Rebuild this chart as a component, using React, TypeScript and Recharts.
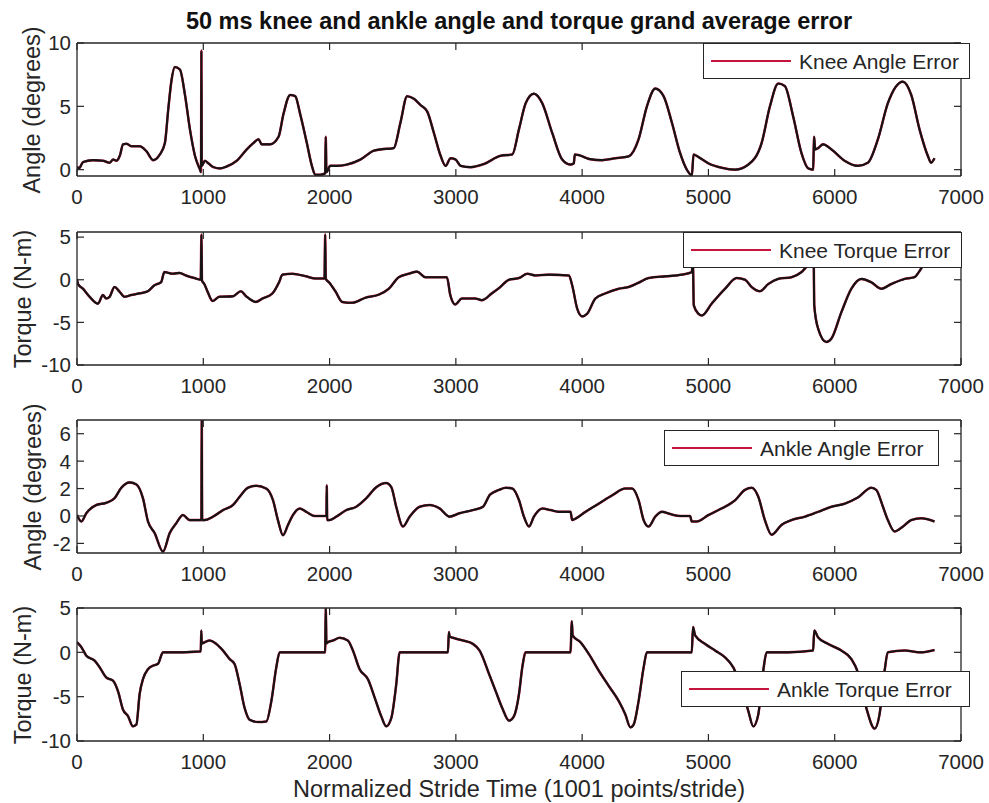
import { LineChart, Line, XAxis, YAxis } from "recharts";

// stride time axis (normalized, 1001 points per stride)
const STRIDE_TICKS = [0, 1000, 2000, 3000, 4000, 5000, 6000, 7000];

// [stride time, error]
const KNEE_ANGLE: [number, number][] = [
  [0, 0.25], [15, 0.1], [48, 0.6], [127, 0.75], [206, 0.7], [259, 0.55], [286, 0.8], [312, 0.7],
  [339, 1.1], [365, 2.0], [392, 2.05], [431, 1.85], [497, 1.85], [550, 1.45], [603, 0.75], [656, 1.2],
  [696, 2.1], [722, 4.7], [749, 7.1], [775, 8.1], [815, 7.9], [855, 5.9], [894, 3.2], [934, 1.1],
  [974, 0.0], [982, -0.2], [985, 9.4], [988, 0.3], [1013, 0.7], [1040, 0.5], [1080, 0.2], [1132, 0.1],
  [1185, 0.25], [1265, 0.7], [1344, 1.6], [1397, 2.1], [1437, 2.4], [1463, 2.0], [1529, 2.0], [1596, 2.6],
  [1635, 4.4], [1688, 5.9], [1728, 5.8], [1767, 4.4], [1820, 2.1], [1860, 0.3], [1887, -0.4], [1926, -0.4],
  [1965, -0.3], [1970, 2.6], [1975, -0.2], [2005, 0.3], [2058, 0.3], [2138, 0.4], [2244, 0.8], [2350, 1.5],
  [2403, 1.6], [2508, 1.7], [2561, 3.7], [2614, 5.8], [2667, 5.6], [2720, 5.1], [2773, 4.6], [2826, 2.9],
  [2879, 1.1], [2919, 0.3], [2958, 0.9], [2998, 0.8], [3038, 0.3], [3117, 0.2], [3223, 0.45], [3355, 1.1],
  [3447, 1.2], [3500, 3.2], [3553, 5.25], [3618, 6.0], [3684, 5.25], [3763, 2.9], [3842, 0.8], [3908, 0.4],
  [3934, 0.5], [3942, 1.2], [3974, 1.15], [4053, 0.85], [4158, 0.75], [4263, 0.9], [4368, 1.05], [4447, 2.4],
  [4513, 5.0], [4579, 6.4], [4645, 5.8], [4711, 3.7], [4776, 1.3], [4829, 0.0], [4869, -0.45], [4882, 1.2],
  [4921, 1.0], [5000, 0.5], [5105, 0.15], [5211, 0.0], [5316, 0.4], [5421, 2.1], [5487, 5.0], [5553, 6.8],
  [5605, 6.6], [5671, 4.2], [5737, 1.3], [5790, 0.1], [5829, 0.0], [5837, 2.6], [5845, 1.6], [5868, 1.7],
  [5908, 2.0], [5974, 1.6], [6079, 0.7], [6184, 0.3], [6263, 0.55], [6342, 2.4], [6421, 5.25], [6540, 6.95],
  [6606, 5.9], [6671, 3.2], [6737, 1.1], [6763, 0.55], [6790, 0.9],
];

const KNEE_TORQUE: [number, number][] = [
  [0, 0.1], [8, -0.5], [47, -1.05], [100, -2.0], [166, -2.8], [205, -1.8], [232, -2.2], [258, -2.0],
  [297, -0.85], [337, -1.4], [376, -2.0], [429, -1.8], [495, -1.6], [561, -1.35], [613, -0.65], [666, -0.28],
  [692, 0.9], [758, 0.7], [811, 0.8], [863, 0.5], [929, 0.2], [980, 0.0], [985, 5.3], [990, -0.1],
  [1008, -0.5], [1034, -1.4], [1074, -2.5], [1126, -2.0], [1232, -1.95], [1298, -1.35], [1337, -1.9], [1416, -2.6],
  [1469, -2.2], [1548, -1.6], [1600, -0.3], [1627, 0.6], [1706, 0.7], [1811, 0.4], [1890, 0.15], [1960, 0.15],
  [1965, 5.3], [1970, 0.1], [1995, -0.3], [2048, -1.4], [2100, -2.6], [2179, -2.7], [2285, -2.1], [2390, -1.75],
  [2469, -1.05], [2548, 0.3], [2627, 0.7], [2693, 0.95], [2758, 0.3], [2837, 0.3], [2929, 0.3], [2956, -1.8],
  [2995, -2.9], [3048, -2.2], [3153, -2.2], [3206, -2.4], [3285, -1.6], [3340, -1.0], [3421, 0.0], [3500, 0.2],
  [3566, 0.7], [3632, 0.5], [3737, 0.6], [3895, 0.5], [3921, -0.65], [3961, -3.4], [4000, -4.3], [4039, -4.0],
  [4105, -2.2], [4184, -1.6], [4290, -1.05], [4368, -0.85], [4447, -0.35], [4526, 0.2], [4658, 0.4], [4790, 0.6],
  [4869, 0.9], [4876, 3.0], [4884, -3.0], [4921, -4.0], [4947, -4.2], [5026, -2.8], [5132, -1.05], [5224, 0.2],
  [5290, 0.0], [5342, -0.85], [5408, -1.35], [5474, -0.5], [5553, 0.1], [5658, 0.3], [5737, 0.9], [5790, 1.7],
  [5829, 2.0], [5833, 3.0], [5838, -3.0], [5868, -5.7], [5934, -7.3], [5974, -6.9], [6053, -3.8], [6132, -1.05],
  [6211, 0.1], [6290, -0.3], [6369, -1.05], [6448, -0.5], [6553, 0.1], [6632, 0.3], [6671, 1.0], [6711, 1.8],
  [6760, 1.5],
];

const ANKLE_ANGLE: [number, number][] = [
  [0, 0.08], [34, -0.4], [74, 0.2], [153, 0.8], [232, 0.96], [298, 1.3], [351, 2.06], [417, 2.45],
  [470, 2.3], [522, 1.3], [562, -0.4], [615, -1.25], [681, -2.6], [734, -1.25], [786, -0.53], [839, 0.07],
  [892, -0.3], [971, -0.3], [985, -0.3], [988, 7.0], [991, -0.3], [1011, -0.3], [1077, -0.05], [1156, 0.43],
  [1235, 0.8], [1288, 1.4], [1354, 2.06], [1420, 2.2], [1499, 2.0], [1552, 1.15], [1591, -0.3], [1631, -1.4],
  [1671, -0.65], [1710, 0.07], [1763, 0.55], [1816, 0.3], [1882, 0.0], [1961, 0.0], [1975, 0.0], [1978, 2.24],
  [1981, -0.3], [2000, -0.3], [2053, -0.05], [2132, 0.43], [2211, 0.67], [2291, 1.3], [2370, 2.1], [2449, 2.4],
  [2489, 2.1], [2528, 0.67], [2581, -0.77], [2634, -0.05], [2713, 0.67], [2792, 0.8], [2871, 0.55], [2950, -0.05],
  [3029, 0.2], [3135, 0.43], [3214, 0.67], [3270, 1.55], [3342, 1.9], [3395, 2.06], [3447, 2.0], [3500, 1.15],
  [3539, -0.05], [3579, -0.77], [3618, -0.05], [3684, 0.55], [3750, 0.43], [3816, 0.3], [3908, 0.3], [3921, -0.3],
  [3947, -0.2], [4026, 0.3], [4132, 0.9], [4237, 1.5], [4342, 2.0], [4395, 2.0], [4447, 1.15], [4487, -0.3],
  [4526, -0.77], [4579, -0.05], [4632, 0.3], [4697, 0.14], [4776, 0.0], [4855, 0.0], [4868, -0.4], [4908, -0.4],
  [5000, 0.07], [5105, 0.55], [5211, 1.15], [5289, 1.9], [5342, 2.06], [5395, 1.4], [5447, -0.3], [5500, -1.37],
  [5579, -0.65], [5658, -0.3], [5763, -0.05], [5868, 0.3], [5974, 0.67], [6079, 0.9], [6184, 1.35], [6290, 2.06],
  [6329, 1.9], [6382, 0.67], [6421, -0.3], [6474, -1.13], [6540, -0.77], [6606, -0.3], [6684, -0.17], [6790, -0.4],
];

const ANKLE_TORQUE: [number, number][] = [
  [0, 1.14], [34, 0.6], [74, -0.38], [140, -0.94], [180, -1.7], [232, -2.84], [285, -3.2], [325, -4.4],
  [364, -6.45], [404, -7.2], [443, -8.35], [470, -8.15], [496, -4.7], [523, -3.0], [562, -1.9], [602, -1.5],
  [641, -1.3], [681, 0.0], [707, 0.0], [839, 0.0], [971, 0.1], [980, 0.1], [984, 2.47], [988, 1.0],
  [1011, 1.14], [1050, 1.33], [1103, 0.95], [1156, 0.2], [1209, -0.76], [1248, -1.33], [1288, -3.6], [1327, -6.26],
  [1367, -7.6], [1433, -7.86], [1499, -7.8], [1539, -5.5], [1578, -1.7], [1605, 0.0], [1763, 0.0], [1965, 0.0],
  [1970, 5.0], [1975, 1.0], [1987, 1.14], [2027, 1.33], [2080, 1.64], [2145, 1.33], [2185, 0.2], [2238, -1.9],
  [2304, -3.04], [2357, -5.1], [2409, -7.2], [2449, -8.35], [2489, -7.4], [2528, -3.6], [2555, 0.0], [2713, 0.0],
  [2937, 0.0], [2945, 2.28], [2950, 1.8], [2977, 1.64], [3056, 1.33], [3135, 0.95], [3188, 0.2], [3267, -2.6],
  [3316, -4.4], [3368, -6.3], [3421, -7.7], [3460, -7.2], [3500, -4.7], [3526, -1.7], [3553, 0.0], [3658, 0.0],
  [3908, 0.0], [3918, 3.5], [3925, 1.9], [3987, 1.14], [4053, -0.19], [4132, -2.08], [4211, -3.8], [4290, -5.5],
  [4342, -7.0], [4382, -8.46], [4408, -8.15], [4447, -5.5], [4487, -1.7], [4513, 0.0], [4632, 0.0], [4868, 0.0],
  [4878, 2.85], [4895, 1.9], [4974, 0.95], [5053, 0.2], [5132, -0.57], [5197, -1.7], [5260, -3.8], [5316, -6.63],
  [5355, -8.35], [5395, -7.0], [5434, -2.08], [5461, 0.0], [5632, 0.0], [5829, 0.2], [5838, 2.47], [5868, 1.7],
  [5947, 0.95], [6053, 0.2], [6132, -0.76], [6184, -2.27], [6250, -6.26], [6316, -8.6], [6355, -7.0], [6395, -2.08],
  [6421, 0.0], [6553, 0.2], [6684, 0.0], [6790, 0.27],
];

const RED = "#c4163c";
const INK = "#262626";
const FONT = "'Liberation Sans', Arial, Helvetica, sans-serif";
const TICK = 7;
const PAD = 20; // room above each plot box for the top tick label

function BottomTick(p: any) {
  const { x, y, payload } = p;
  return (
    <g>
      <line x1={x} x2={x} y1={y} y2={y - TICK} stroke={INK} strokeWidth={1.2} />
      <text x={x} y={y + 28} textAnchor="middle" fill={INK} fontSize={20.5} fontFamily={FONT}>
        {payload.value}
      </text>
    </g>
  );
}

function TopTick(p: any) {
  const { x, y } = p;
  return <line x1={x} x2={x} y1={y} y2={y + TICK} stroke={INK} strokeWidth={1.2} />;
}

function LeftTick(p: any) {
  const { x, y, payload } = p;
  return (
    <g>
      <line x1={x} x2={x + TICK} y1={y} y2={y} stroke={INK} strokeWidth={1.2} />
      <text x={x - 6} y={y} dy="0.36em" textAnchor="end" fill={INK} fontSize={20.5} fontFamily={FONT}>
        {payload.value}
      </text>
    </g>
  );
}

function RightTick(p: any) {
  const { x, y } = p;
  return <line x1={x} x2={x - TICK} y1={y} y2={y} stroke={INK} strokeWidth={1.2} />;
}

const AXIS_LINE = { stroke: INK, strokeWidth: 1.3 };

function Panel({ top, series, domain, ticks }: { top: number; series: [number, number][]; domain: [number, number]; ticks: number[] }) {
  const rows = series.map(([t, v]) => ({ t, v }));
  return (
    <div style={{ position: "absolute", left: 0, top: top - PAD }}>
      <LineChart width={989} height={133 + PAD + 40} data={rows} margin={{ top: 0, right: 0, bottom: 0, left: 0 }}>
        <XAxis xAxisId="b" dataKey="t" type="number" domain={[0, 7000]} ticks={STRIDE_TICKS} interval={0}
          height={40} tickSize={0} tickMargin={0} tickLine={false} tick={(q: any) => <BottomTick {...q} />}
          axisLine={AXIS_LINE} allowDataOverflow />
        <XAxis xAxisId="t" orientation="top" dataKey="t" type="number" domain={[0, 7000]} ticks={STRIDE_TICKS}
          interval={0} height={PAD} tickSize={0} tickMargin={0} tickLine={false} tick={(q: any) => <TopTick {...q} />}
          axisLine={AXIS_LINE} allowDataOverflow />
        <YAxis yAxisId="l" type="number" domain={domain} ticks={ticks} interval={0} width={77} tickSize={0}
          tickMargin={0} tickLine={false} tick={(q: any) => <LeftTick {...q} />} axisLine={AXIS_LINE} allowDataOverflow />
        <YAxis yAxisId="r" orientation="right" type="number" domain={domain} ticks={ticks} interval={0} width={28}
          tickSize={0} tickMargin={0} tickLine={false} tick={(q: any) => <RightTick {...q} />} axisLine={AXIS_LINE}
          allowDataOverflow />
        <Line xAxisId="b" yAxisId="l" type="monotone" dataKey="v" stroke={RED} strokeWidth={2.5} dot={false}
          isAnimationActive={false} />
        <Line xAxisId="t" yAxisId="r" type="monotone" dataKey="v" stroke="#141414" strokeWidth={2.1} dot={false}
          isAnimationActive={false} />
      </LineChart>
    </div>
  );
}

function LegendBox({ left, top, width, name }: { left: number; top: number; width: number; name: string }) {
  return (
    <div style={{ position: "absolute", left, top, width, height: 36, boxSizing: "border-box",
      border: `1.3px solid ${INK}`, background: "#fff" }}>
      <svg width={width - 2} height={34} style={{ position: "absolute", left: 0, top: 0 }}>
        <line x1={7} x2={87} y1={17} y2={17} stroke={RED} strokeWidth={2} />
        <text x={95} y={17} dy="0.36em" fontSize={21} fontFamily={FONT} fill={INK}>{name}</text>
      </svg>
    </div>
  );
}

export default function App() {
  return (
    <div style={{ position: "absolute", left: 0, top: 0, width: 989, height: 803, background: "#fff" }}>
      <Panel top={43} series={KNEE_ANGLE} domain={[-0.5, 10]} ticks={[0, 5, 10]} />
      <Panel top={232} series={KNEE_TORQUE} domain={[-10, 5.6]} ticks={[-10, -5, 0, 5]} />
      <Panel top={420} series={ANKLE_ANGLE} domain={[-2.7, 7]} ticks={[-2, 0, 2, 4, 6]} />
      <Panel top={608} series={ANKLE_TORQUE} domain={[-10, 5]} ticks={[-10, -5, 0, 5]} />

      <LegendBox left={703} top={43} width={267} name="Knee Angle Error" />
      <LegendBox left={683} top={232} width={279} name="Knee Torque Error" />
      <LegendBox left={664} top={430} width={275} name="Ankle Angle Error" />
      <LegendBox left={681} top={671} width={289} name="Ankle Torque Error" />

      <svg width={989} height={803} style={{ position: "absolute", left: 0, top: 0, pointerEvents: "none" }}
        fontFamily={FONT}>
        <text x={519} y={29} textAnchor="middle" fontSize={23.5} fontWeight="bold" fill="#111">
          50 ms knee and ankle angle and torque grand average error
        </text>
        <text x={519} y={797} textAnchor="middle" fontSize={23.5} fill={INK}>
          Normalized Stride Time (1001 points/stride)
        </text>
        <text transform="rotate(-90 40 110)" x={40} y={110} textAnchor="middle" fontSize={23.5} fill={INK}>Angle (degrees)</text>
        <text transform="rotate(-90 31 299)" x={31} y={299} textAnchor="middle" fontSize={23.5} fill={INK}>Torque (N-m)</text>
        <text transform="rotate(-90 41 487)" x={41} y={487} textAnchor="middle" fontSize={23.5} fill={INK}>Angle (degrees)</text>
        <text transform="rotate(-90 31 675)" x={31} y={675} textAnchor="middle" fontSize={23.5} fill={INK}>Torque (N-m)</text>
      </svg>
    </div>
  );
}
